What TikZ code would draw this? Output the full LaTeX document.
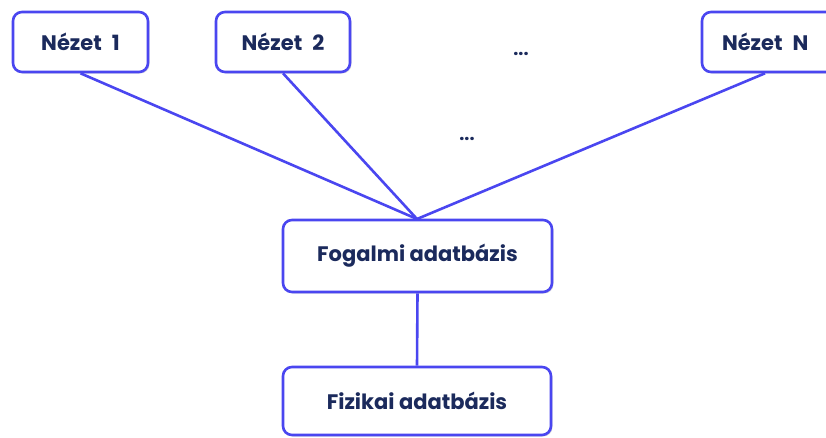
\documentclass[tikz,border=0pt]{standalone}
\usepackage{fontspec}
\setmainfont{Poppins}
\usetikzlibrary{shadows}
\definecolor{boxblue}{HTML}{4A46F0}
\definecolor{txtnavy}{HTML}{1B2A5C}
\begin{document}
\begin{tikzpicture}[x=1pt,y=-1pt,
  box/.style={draw=boxblue, line width=2.6pt, rounded corners=9pt, fill=white,
    drop shadow={shadow xshift=1.5pt, shadow yshift=-1.5pt, opacity=0.25},
    font=\fontsize{21}{24}\selectfont\bfseries, text=txtnavy, inner sep=0pt},
  link/.style={draw=boxblue, line width=2.6pt},
  dots/.style={text=txtnavy, font=\fontsize{18}{20}\selectfont\bfseries}]
\useasboundingbox (0,0) rectangle (826,437);
\clip (0,0) rectangle (826,437);
\node[box, minimum width=135pt, minimum height=60pt] (n1) at (80.5,42) {Nézet\hspace{10pt}1};
\node[box, minimum width=134pt, minimum height=60pt] (n2) at (283,42) {Nézet\hspace{10pt}2};
\node[box, minimum width=150pt, minimum height=60pt, text width=150pt, align=left] (nn) at (777,42) {\hspace*{20pt}Nézet\hspace{10pt}N};
\node[box, minimum width=269pt, minimum height=72pt] (fog) at (417.5,256) {Fogalmi adatbázis};
\node[box, minimum width=268pt, minimum height=68pt] (fiz) at (417,401) {Fizikai adatbázis};
\coordinate (hub) at (417,219);
\draw[link] (n1.south) -- (hub);
\draw[link] (n2.south) -- (hub);
\draw[link] ([xshift=-12pt]nn.south) -- (hub);
\draw[link] (fog.south) -- (fiz.north);
\node[dots] (d1) at (521,54) {...};
\node[dots] (d2) at (467,139) {...};
\end{tikzpicture}
\end{document}
